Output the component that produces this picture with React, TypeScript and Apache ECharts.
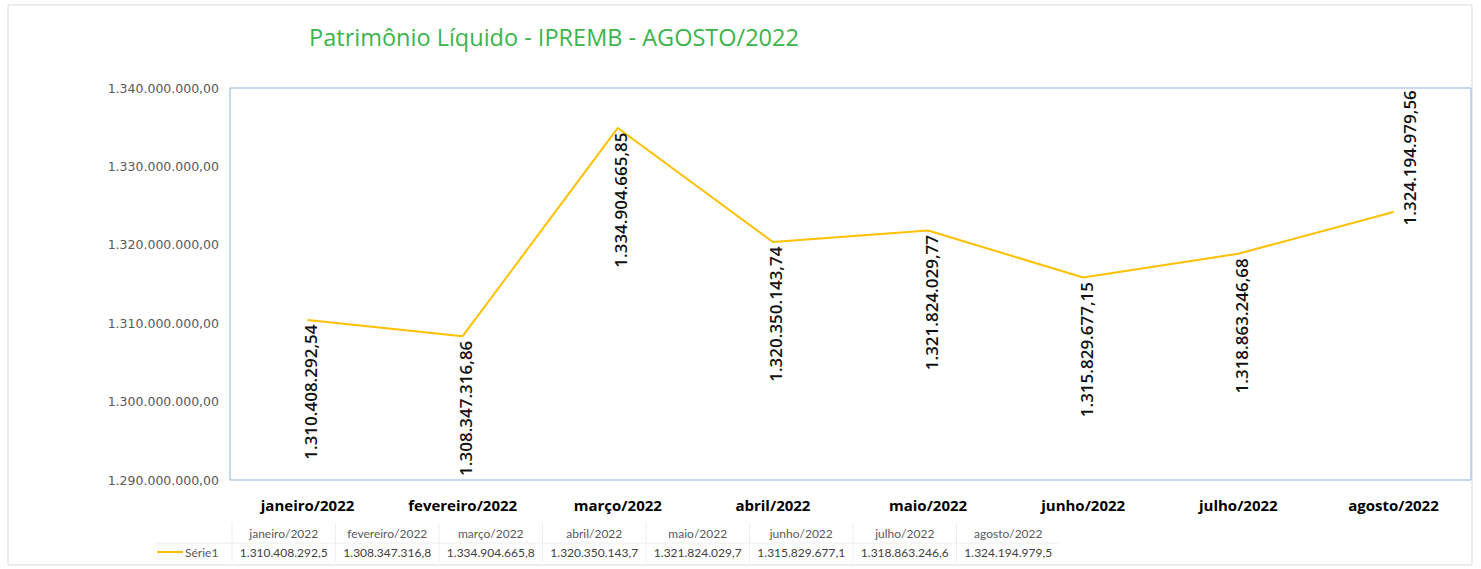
import React, { useEffect, useRef } from "react";
import * as echarts from "echarts";

const title = "Patrimônio Líquido - IPREMB - AGOSTO/2022";
const categories = [
  "janeiro/2022",
  "fevereiro/2022",
  "março/2022",
  "abril/2022",
  "maio/2022",
  "junho/2022",
  "julho/2022",
  "agosto/2022",
];
const values = [
  1310408292.54, 1308347316.86, 1334904665.85, 1320350143.74, 1321824029.77,
  1315829677.15, 1318863246.68, 1324194979.56,
];
const seriesName = "Série1";
const yMin = 1290000000;
const yMax = 1340000000;
const yInterval = 10000000;

function fmtBR(v: number, decimals: number, truncate = false): string {
  const factor = Math.pow(10, decimals);
  const scaled = truncate ? Math.floor(v * factor + 1e-6) : Math.round(v * factor);
  const intPart = Math.floor(scaled / factor);
  const frac = scaled - intPart * factor;
  const intStr = String(intPart).replace(/\B(?=(\d{3})+(?!\d))/g, ".");
  if (decimals === 0) return intStr;
  return intStr + "," + String(frac).padStart(decimals, "0");
}

export default function App() {
  const ref = useRef<HTMLDivElement>(null);
  useEffect(() => {
    document.body.style.margin = "0";
    if (!ref.current) return;
    const chart = echarts.init(ref.current, null, { renderer: "svg" });
    const font = "Lato, 'Open Sans', sans-serif";
    const tableLeft = 232;
    const colW = 103.5;
    const tableGraphics: any[] = [];
    categories.forEach((c, i) => {
      const cx = tableLeft + colW / 2 + i * colW;
      tableGraphics.push({
        type: "text",
        x: cx,
        y: 533,
        style: {
          text: c,
          font: `12px ${font}`,
          fill: "#595959",
          align: "center",
          verticalAlign: "middle",
        },
      });
      tableGraphics.push({
        type: "text",
        x: cx,
        y: 552,
        style: {
          text: fmtBR(values[i], 1, true),
          font: `12px ${font}`,
          fill: "#404040",
          align: "center",
          verticalAlign: "middle",
        },
      });
      tableGraphics.push({
        type: "line",
        shape: { x1: tableLeft + i * colW, y1: 523, x2: tableLeft + i * colW, y2: 562 },
        style: { stroke: "#eeeeee", lineWidth: 1 },
      });
    });
    tableGraphics.push({
      type: "line",
      shape: { x1: 155, y1: 543, x2: tableLeft + categories.length * colW, y2: 543 },
      style: { stroke: "#eeeeee", lineWidth: 1 },
    });
    tableGraphics.push({
      type: "line",
      shape: { x1: 157, y1: 552, x2: 183, y2: 552 },
      style: { stroke: "#ffc000", lineWidth: 2 },
    });
    tableGraphics.push({
      type: "text",
      x: 185,
      y: 552,
      style: {
        text: seriesName,
        font: `12px ${font}`,
        fill: "#595959",
        align: "left",
        verticalAlign: "middle",
      },
    });
    tableGraphics.push({
      type: "rect",
      shape: { x: 8, y: 5, width: 1464, height: 560 },
      style: { fill: "none", stroke: "#d9d9d9", lineWidth: 1 },
      z: -1,
    });

    chart.setOption({
      animation: false,
      backgroundColor: "#ffffff",
      title: {
        text: title,
        left: 549,
        top: 20,
        textAlign: "center",
        textStyle: {
          color: "#3cb44b",
          fontSize: 23.5,
          fontWeight: "normal",
          fontFamily: "'Open Sans', Lato, sans-serif",
        },
      },
      grid: {
        left: 230,
        right: 10,
        top: 88,
        bottom: 89,
        show: true,
        borderColor: "#8db4e2",
        borderWidth: 1,
      },
      xAxis: {
        type: "category",
        data: categories,
        boundaryGap: true,
        axisLine: { show: false },
        axisTick: { show: false },
        axisLabel: {
          margin: 17,
          fontSize: 15,
          fontWeight: "bold",
          color: "#000000",
          fontFamily: "'Open Sans', Lato, sans-serif",
        },
      },
      yAxis: {
        type: "value",
        min: yMin,
        max: yMax,
        interval: yInterval,
        splitLine: { show: false },
        axisLine: { show: false },
        axisTick: { show: false },
        axisLabel: {
          margin: 11,
          fontSize: 12.5,
          color: "#595959",
          fontFamily: "'DejaVu Sans', sans-serif",
          formatter: (v: number) => fmtBR(v, 2),
        },
      },
      series: [
        {
          name: seriesName,
          type: "line",
          data: values.map((v, i) => {
            const last = i === values.length - 1;
            return {
              value: v,
              label: last
                ? { position: "top", align: "left", distance: -14, offset: [0, 16] }
                : { position: "bottom", align: "right", distance: 4, offset: [0, 3] },
            };
          }),
          symbol: "circle",
          symbolSize: 1,
          showSymbol: true,
          lineStyle: { color: "#ffc000", width: 2 },
          itemStyle: { color: "#ffc000" },
          label: {
            show: true,
            rotate: 90,
            verticalAlign: "middle",
            fontSize: 17,
            fontWeight: 600,
            color: "#111111",
            fontFamily: "'Open Sans', Lato, sans-serif",
            formatter: (p: any) => fmtBR(p.value, 2),
          },
        },
      ],
      graphic: tableGraphics,
    });
    return () => chart.dispose();
  }, []);
  return <div ref={ref} style={{ width: 1481, height: 569 }} />;
}
